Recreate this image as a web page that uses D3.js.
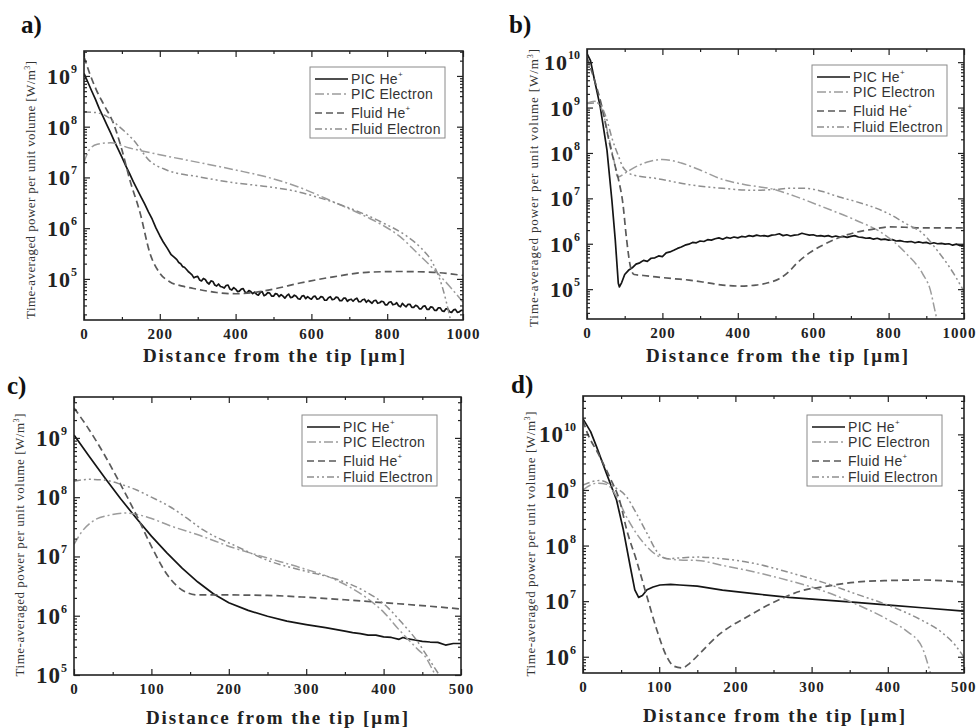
<!DOCTYPE html>
<html>
<head>
<meta charset="utf-8">
<script src="https://cdn.jsdelivr.net/npm/d3@7"></script>
<style>
  html, body { margin: 0; padding: 0; background: #fff; }
  svg { display: block; }
</style>
</head>
<body>
<svg id="fig" width="978" height="728"></svg>
<script>
// ---------- series names ----------
const seriesNames = ["PIC He", "PIC Electron", "Fluid He", "Fluid Electron"];
const seriesCharge = ["+", "", "+", ""];

// ---------- axis ticks ----------
const distTicks1000 = [0, 200, 400, 600, 800, 1000];
const distMinor1000 = [100, 300, 500, 700, 900];
const distTicks500 = [0, 100, 200, 300, 400, 500];
const distMinor500 = [50, 150, 250, 350, 450];
const decadesA = [5, 6, 7, 8, 9];
const decadesB = [5, 6, 7, 8, 9, 10];
const decadesC = [5, 6, 7, 8, 9];
const decadesD = [6, 7, 8, 9, 10];
const yDomainA = [1.55e4, 3.1e9];
const yDomainB = [2.2e4, 1.95e10];
const yDomainC = [1e5, 4.9e9];
const yDomainD = [5.1e5, 4.9e10];

// ---------- panel a: distance [um], power density [W/m^3] ----------
const aPicHe = [[0,1.12e9],[10,7.6e8],[20,5.1e8],[30,3.5e8],[40,2.3e8],[50,1.6e8],[60,1.1e8],[70,7.6e7],[80,5.2e7],[90,3.6e7],[100,2.5e7],[110,1.7e7],[120,1.2e7],[130,8.3e6],[140,5.9e6],[150,4.2e6],[160,3.0e6],[170,2.1e6],[180,1.5e6],[190,1.0e6],[200,7.1e5],[210,5.2e5],[220,4.0e5],[230,3.0e5],[240,2.6e5],[245,2.4e5],[250,2.1e5],[255,2.0e5],[260,1.75e5],[265,1.7e5],[270,1.55e5],[275,1.4e5],[280,1.3e5],[285,1.2e5],[290,1.05e5],[295,1.1e5],
  [300,1.12e5],[305,9.55e4],[310,9.12e4],[315,1.02e5],[320,9.77e4],[325,8.51e4],[330,7.94e4],[335,9.12e4],[340,8.91e4],[345,7.59e4],[350,7.24e4],[355,7.94e4],[360,7.08e4],[365,6.92e4],[370,6.61e4],[375,7.41e4],[380,7.59e4],[385,6.31e4],[390,6.03e4],[395,6.76e4],
  [400,6.31e4],[405,5.62e4],[410,5.75e4],[415,6.31e4],[420,6.46e4],[425,5.5e4],[430,5.25e4],[435,5.89e4],[440,5.62e4],[445,5.13e4],[450,5.5e4],[455,5.01e4],[460,4.79e4],[465,5.37e4],[470,5.62e4],[475,4.68e4],[480,4.9e4],[485,5.37e4],[490,5.25e4],[495,4.57e4],
  [500,4.57e4],[505,5.13e4],[510,5.01e4],[515,4.47e4],[520,4.9e4],[525,4.57e4],[530,4.17e4],[535,4.68e4],[540,5.01e4],[545,4.27e4],[550,4.37e4],[555,4.79e4],[560,4.57e4],[565,4.07e4],[570,3.98e4],[575,4.57e4],[580,4.68e4],[585,4.07e4],[590,4.47e4],[595,4.17e4],
  [600,3.98e4],[605,4.47e4],[610,4.57e4],[615,3.98e4],[620,4.07e4],[625,4.47e4],[630,4.37e4],[635,3.8e4],[640,3.8e4],[645,4.27e4],[650,4.47e4],[655,3.89e4],[660,3.98e4],[665,4.37e4],[670,4.27e4],[675,3.72e4],[680,3.72e4],[685,4.17e4],[690,4.17e4],[695,3.63e4],
  [700,3.89e4],[705,3.98e4],[710,3.63e4],[715,3.98e4],[720,4.17e4],[725,3.55e4],[730,3.55e4],[735,3.89e4],[740,3.98e4],[745,3.47e4],[750,3.8e4],[755,3.55e4],[760,3.31e4],[765,3.72e4],[770,3.8e4],[775,3.31e4],[780,3.39e4],[785,3.63e4],[790,3.55e4],[795,3.09e4],
  [800,3.09e4],[805,3.47e4],[810,3.55e4],[815,3.09e4],[820,3.16e4],[825,3.39e4],[830,2.95e4],[835,2.82e4],[840,3.31e4],[845,3.02e4],[850,2.82e4],[855,3.16e4],[860,3.16e4],[865,2.75e4],[870,2.75e4],[875,3.02e4],[880,2.88e4],[885,2.57e4],[890,2.57e4],[895,2.88e4],
  [900,2.95e4],[905,2.51e4],[910,2.51e4],[915,2.82e4],[920,2.75e4],[925,2.4e4],[930,2.4e4],[935,2.69e4],[940,2.69e4],[945,2.34e4],[950,2.29e4],[955,2.57e4],[960,2.57e4],[965,2.24e4],[970,2.19e4],[975,2.45e4],[980,2.51e4],[985,2.19e4],[990,2.24e4],[995,2.4e4],[1000,2.4e4]];
const aPicElectron = [[0,2.0e7],[15,3.6e7],[35,4.5e7],[70,4.8e7],[120,3.8e7],[200,2.8e7],[306,1.95e7],[400,1.4e7],[482,1.02e7],[570,6.3e6],[658,3.3e6],[746,1.66e6],[790,1.12e6],[834,6.8e5],[878,3.3e5],[921,1.6e5],[965,7.1e4],[1000,3.5e4]];
const aFluidHe = [[0,2.4e9],[15,1.12e9],[33,5.2e8],[55,2.5e8],[77,1.2e8],[100,3.5e7],[121,8.9e6],[148,2.0e6],[174,3.2e5],[200,1.3e5],[227,8.7e4],[260,7.2e4],[297,6.3e4],[350,5.4e4],[400,5.1e4],[450,5.4e4],[500,6.3e4],[570,8.3e4],[658,1.1e5],[746,1.35e5],[834,1.4e5],[921,1.35e5],[1000,1.17e5]];
const aFluidElectron = [[0,1.95e8],[30,1.9e8],[60,1.6e8],[90,1.05e8],[130,5.5e7],[174,2.1e7],[218,1.4e7],[306,1.02e7],[394,7.9e6],[482,6.6e6],[550,5.5e6],[620,4.0e6],[700,2.5e6],[790,1.26e6],[850,7.1e5],[890,4.0e5],[921,2.0e5],[945,7.1e4],[965,1.8e4],[975,7.9e3]];

// ---------- panel b ----------
const bPicHe = [[0,1.55e10],[9,1.1e10],[20,4.0e9],[35,1.05e9],[53,1.15e8],[66,9.1e6],[75,1.2e6],[83,1.35e5],[86,1.12e5],[92,1.4e5],[100,2.1e5],[110,2.6e5],[120,2.95e5],[130,3.55e5],[140,3.8e5],[150,4.3e5],[160,4.1e5],[170,4.8e5],[180,4.9e5],[190,5.4e5],[200,5.2e5],[210,6.3e5],[220,6.6e5],[230,7.2e5],[240,7.9e5],[250,8.5e5],[260,9.3e5],[270,9.8e5],[280,1.07e6],[290,1.05e6],[300,1.15e6],[310,1.12e6],[320,1.23e6],[330,1.2e6],[340,1.29e6],[350,1.35e6],[360,1.26e6],[370,1.38e6],[380,1.32e6],[390,1.41e6],[400,1.35e6],[410,1.45e6],[420,1.41e6],[430,1.51e6],[440,1.45e6],[450,1.55e6],[460,1.48e6],[470,1.51e6],[480,1.45e6],[490,1.55e6],[500,1.58e6],[510,1.66e6],[520,1.51e6],[530,1.58e6],[540,1.48e6],[550,1.55e6],[560,1.58e6],[570,1.7e6],[580,1.62e6],[590,1.55e6],[600,1.58e6],[610,1.48e6],[620,1.51e6],[630,1.45e6],[640,1.51e6],[650,1.41e6],[660,1.48e6],[670,1.41e6],[680,1.45e6],[690,1.38e6],[700,1.45e6],[710,1.51e6],[720,1.41e6],[730,1.38e6],[740,1.32e6],[750,1.35e6],[760,1.26e6],[770,1.32e6],[780,1.23e6],[790,1.26e6],[800,1.2e6],[810,1.23e6],[820,1.15e6],[830,1.17e6],[840,1.12e6],[850,1.1e6],[860,1.12e6],[870,1.05e6],[880,1.1e6],[890,1.05e6],[900,1.07e6],[910,1.0e6],[920,1.05e6],[930,1.0e6],[940,1.02e6],[950,9.8e5],[960,1.0e6],[970,9.3e5],[980,9.8e5],[990,9.1e5],[1000,9.5e5]];
const bPicElectron = [[0,1.26e9],[20,1.38e9],[40,8.9e8],[55,2.8e8],[70,7.9e7],[82,2.95e7],[100,3.55e7],[130,5.0e7],[160,6.3e7],[200,7.2e7],[250,6.0e7],[300,4.2e7],[360,2.6e7],[420,2.0e7],[492,1.6e7],[560,1.05e7],[625,6.5e6],[713,3.3e6],[784,1.7e6],[845,6.3e5],[890,2.2e5],[910,1.0e5],[925,2.8e4],[935,1.26e4]];
const bFluidHe = [[0,1.26e10],[20,4.0e9],[40,1.0e9],[60,1.6e8],[75,5.0e7],[84,2.5e7],[95,7.9e6],[105,1.26e6],[115,3.2e5],[125,2.1e5],[150,2.0e5],[183,1.86e5],[230,1.7e5],[271,1.58e5],[320,1.38e5],[360,1.23e5],[404,1.17e5],[448,1.23e5],[480,1.38e5],[510,1.7e5],[535,2.4e5],[554,3.55e5],[590,6.3e5],[625,9.3e5],[670,1.38e6],[713,1.78e6],[760,2.1e6],[801,2.35e6],[850,2.3e6],[890,2.24e6],[950,2.24e6],[1000,2.24e6]];
const bFluidElectron = [[0,1.23e9],[30,1.26e9],[50,6.3e8],[68,1.9e8],[85,7.9e7],[95,4.9e7],[121,3.3e7],[183,2.75e7],[271,2.0e7],[360,1.66e7],[448,1.5e7],[500,1.58e7],[536,1.66e7],[580,1.66e7],[625,1.41e7],[669,1.07e7],[713,8.5e6],[757,6.5e6],[800,4.6e6],[845,2.8e6],[890,1.7e6],[934,6.3e5],[960,3.2e5],[978,1.86e5],[1000,8.9e4]];

// ---------- panel c ----------
const cPicHe = [[0,1.12e9],[20,4.8e8],[40,2.1e8],[60,9.5e7],[80,4.5e7],[100,2.2e7],[120,1.15e7],[140,6.3e6],[160,3.7e6],[180,2.35e6],[200,1.66e6],[225,1.23e6],[250,9.8e5],[275,8.1e5],[300,7.1e5],[325,6.3e5],[350,5.5e5],[360,5.2e5],[370,5.0e5],[380,4.7e5],[390,4.7e5],[400,4.4e5],[410,4.3e5],[420,4.0e5],[425,4.3e5],[430,4.1e5],[440,3.9e5],[450,3.7e5],[460,3.6e5],[470,3.55e5],[480,3.2e5],[490,3.4e5],[500,3.4e5]];
const cPicElectron = [[0,1.6e7],[10,2.6e7],[25,4.0e7],[47,5.0e7],[68,5.4e7],[95,4.6e7],[124,3.3e7],[163,2.25e7],[206,1.4e7],[249,9.5e6],[292,6.5e6],[335,4.2e6],[357,3.0e6],[378,2.0e6],[400,1.15e6],[421,5.6e5],[443,2.8e5],[456,1.86e5],[464,1.17e5],[470,8.9e4]];
const cFluidHe = [[0,3.2e9],[20,1.35e9],[40,5.0e8],[60,1.66e8],[80,5.2e7],[100,1.48e7],[120,5.0e6],[140,2.7e6],[160,2.24e6],[200,2.24e6],[250,2.2e6],[300,2.05e6],[350,1.86e6],[400,1.66e6],[450,1.48e6],[500,1.3e6]];
const cFluidElectron = [[0,1.86e8],[20,2.0e8],[38,1.95e8],[60,1.66e8],[81,1.32e8],[100,1.0e8],[124,6.9e7],[145,4.5e7],[167,2.8e7],[210,1.48e7],[253,8.3e6],[300,5.6e6],[335,4.3e6],[357,3.4e6],[378,2.5e6],[400,1.6e6],[421,8.3e5],[443,3.8e5],[460,1.74e5],[473,9.5e4]];

// ---------- panel d ----------
const dPicHe = [[0,1.9e10],[10,1.12e10],[18,5.9e9],[31,1.95e9],[44,6.6e8],[53,1.9e8],[62,4.2e7],[68,1.6e7],[73,1.17e7],[78,1.26e7],[84,1.6e7],[92,1.8e7],[101,1.95e7],[115,2.0e7],[127,1.95e7],[150,1.86e7],[183,1.58e7],[227,1.35e7],[270,1.17e7],[314,1.05e7],[358,9.5e6],[402,8.5e6],[445,7.6e6],[500,6.6e6]];
const dPicElectron = [[0,1.0e9],[18,1.32e9],[31,1.26e9],[44,7.6e8],[57,3.3e8],[70,1.66e8],[84,9.5e7],[101,6.3e7],[127,5.5e7],[150,5.4e7],[183,4.4e7],[227,3.3e7],[270,2.35e7],[314,1.55e7],[358,8.9e6],[402,4.5e6],[424,2.95e6],[445,1.48e6],[454,6.3e5],[458,4.0e5]];
const dFluidHe = [[0,1.78e10],[5,1.12e10],[20,4.5e9],[35,1.7e9],[49,5.8e8],[57,2.0e8],[70,5.5e7],[84,1.2e7],[97,3.0e6],[110,1.0e6],[119,6.8e5],[130,6.3e5],[140,7.6e5],[149,1.0e6],[180,2.6e6],[215,5.2e6],[258,1.07e7],[290,1.58e7],[314,1.8e7],[358,2.2e7],[402,2.35e7],[445,2.4e7],[500,2.2e7]];
const dFluidElectron = [[0,1.23e9],[22,1.48e9],[40,1.15e9],[57,7.6e8],[70,3.8e8],[84,1.66e8],[97,7.8e7],[110,5.8e7],[127,6.0e7],[150,6.2e7],[183,5.8e7],[227,4.7e7],[270,3.3e7],[314,2.2e7],[358,1.35e7],[402,8.3e6],[445,4.5e6],[470,2.8e6],[489,1.58e6],[500,9.8e5]];

// ---------- line styles for the four series ----------
const styles = [
  { stroke: "#151515", width: 1.7, dash: null,            curve: d3.curveLinear },
  { stroke: "#9c9c9c", width: 1.5, dash: "9,3,2,3",       curve: d3.curveMonotoneX },
  { stroke: "#5a5a5a", width: 1.7, dash: "7,4",           curve: d3.curveMonotoneX },
  { stroke: "#8e8e8e", width: 1.5, dash: "7,3,2,3,2,3",   curve: d3.curveMonotoneX }
];

// ---------- panel layout ----------
const panels = [
  { tag: "a)", series: [aPicHe, aPicElectron, aFluidHe, aFluidElectron],
    xDomain: [0, 1000], xTicks: distTicks1000, xMinor: distMinor1000,
    yDomain: yDomainA, decades: decadesA,
    box: { left: 84, right: 463, top: 51, bottom: 320 },
    tagPos: [21, 33], legend: [310, 67], yTitle: [30, 190, 258], xTitle: [274, 362], yFont: 22 },
  { tag: "b)", series: [bPicHe, bPicElectron, bFluidHe, bFluidElectron],
    xDomain: [0, 1000], xTicks: distTicks1000, xMinor: distMinor1000,
    yDomain: yDomainB, decades: decadesB,
    box: { left: 587, right: 964, top: 49, bottom: 319 },
    tagPos: [509, 33], legend: [812, 65], yTitle: [533, 188, 278], xTitle: [777, 362], yFont: 22 },
  { tag: "c)", series: [cPicHe, cPicElectron, cFluidHe, cFluidElectron],
    xDomain: [0, 500], xTicks: distTicks500, xMinor: distMinor500,
    yDomain: yDomainC, decades: decadesC,
    box: { left: 74, right: 461, top: 397, bottom: 675 },
    tagPos: [7, 394], legend: [302, 415], yTitle: [19, 545, 263], xTitle: [277, 724], yFont: 23 },
  { tag: "d)", series: [dPicHe, dPicElectron, dFluidHe, dFluidElectron],
    xDomain: [0, 500], xTicks: distTicks500, xMinor: distMinor500,
    yDomain: yDomainD, decades: decadesD,
    box: { left: 583, right: 964, top: 396, bottom: 673 },
    tagPos: [511, 393], legend: [807, 415], yTitle: [530, 544, 265], xTitle: [774, 722], yFont: 23 }
];

const W = 978;
const svg = d3.select("#fig");
svg.append("rect").attr("width", W).attr("height", 728).attr("fill", "#fff");

const SERIF = "'Liberation Serif', 'Times New Roman', serif";
const SANS = "'Liberation Sans', Arial, sans-serif";
const INK = "#222";

function styleAxis(g) {
  g.select(".domain").remove();
  g.selectAll(".tick line").attr("stroke", INK).attr("stroke-width", 1.2);
}

panels.forEach((p, pi) => {
  const b = p.box;
  const x = d3.scaleLinear().domain(p.xDomain).range([b.left, b.right]);
  const y = d3.scaleLog().domain(p.yDomain).range([b.bottom, b.top]);
  const g = svg.append("g");

  const clipId = "clip-" + pi;
  svg.append("clipPath").attr("id", clipId)
    .append("rect").attr("x", b.left).attr("y", b.top)
    .attr("width", b.right - b.left).attr("height", b.bottom - b.top);

  // curves
  p.series.forEach((s, i) => {
    const st = styles[i];
    const line = d3.line().x(d => x(d[0])).y(d => y(d[1])).curve(st.curve);
    g.append("path").datum(s)
      .attr("clip-path", `url(#${clipId})`)
      .attr("d", line)
      .attr("fill", "none")
      .attr("stroke", st.stroke)
      .attr("stroke-width", st.width)
      .attr("stroke-linejoin", "round")
      .attr("stroke-dasharray", st.dash);
  });

  // minor log ticks
  const minorY = [];
  const lo = Math.floor(Math.log10(p.yDomain[0])), hi = Math.ceil(Math.log10(p.yDomain[1]));
  for (let e = lo; e <= hi; e++) {
    for (let k = 2; k <= 9; k++) {
      const v = k * Math.pow(10, e);
      if (v > p.yDomain[0] && v < p.yDomain[1]) minorY.push(v);
    }
  }
  const majorY = p.decades.map(e => Math.pow(10, e));

  // x axis (bottom) with labels
  const xb = g.append("g").attr("transform", `translate(0,${b.bottom})`)
    .call(d3.axisBottom(x).tickValues(p.xTicks).tickSize(-6).tickPadding(8).tickFormat(d3.format("d")));
  styleAxis(xb);
  xb.selectAll("text").attr("font-family", SERIF).attr("font-weight", "bold")
    .attr("font-size", 15).attr("fill", INK).attr("letter-spacing", "1px");
  // keep the last label inside the page
  xb.selectAll(".tick").each(function (d) {
    const t = d3.select(this).select("text");
    const w = t.node().getBBox().width;
    const over = x(d) + w / 2 - (W - 2);
    if (over > 0) t.attr("x", -over);
  });
  g.append("g").attr("transform", `translate(0,${b.bottom})`)
    .call(d3.axisBottom(x).tickValues(p.xMinor).tickSize(-3).tickFormat("")).call(styleAxis);
  g.append("g").attr("transform", `translate(0,${b.top})`)
    .call(d3.axisTop(x).tickValues(p.xTicks).tickSize(-6).tickFormat("")).call(styleAxis);
  g.append("g").attr("transform", `translate(0,${b.top})`)
    .call(d3.axisTop(x).tickValues(p.xMinor).tickSize(-3).tickFormat("")).call(styleAxis);

  // y axes (left and right), inward ticks
  [["axisLeft", b.left], ["axisRight", b.right]].forEach(([fn, px]) => {
    g.append("g").attr("transform", `translate(${px},0)`)
      .call(d3[fn](y).tickValues(majorY).tickSize(-6).tickFormat("")).call(styleAxis);
    g.append("g").attr("transform", `translate(${px},0)`)
      .call(d3[fn](y).tickValues(minorY).tickSize(-3).tickFormat("")).call(styleAxis);
  });

  // y tick labels as powers of ten
  p.decades.forEach(e => {
    const t = g.append("text")
      .attr("x", b.left - 7).attr("y", y(Math.pow(10, e)) + 8)
      .attr("text-anchor", "end")
      .attr("font-family", SERIF).attr("font-weight", "bold")
      .attr("fill", INK);
    t.append("tspan").attr("font-size", p.yFont).attr("letter-spacing", "1px").text("10");
    t.append("tspan").attr("font-size", 12).attr("dy", -11).text(e);
  });

  // frame
  g.append("rect").attr("x", b.left).attr("y", b.top)
    .attr("width", b.right - b.left).attr("height", b.bottom - b.top)
    .attr("fill", "none").attr("stroke", INK).attr("stroke-width", 1.6);

  // axis titles
  g.append("text")
    .attr("x", p.xTitle[0]).attr("y", p.xTitle[1])
    .attr("text-anchor", "middle")
    .attr("font-family", SERIF).attr("font-weight", "bold").attr("font-size", 19)
    .attr("fill", INK)
    .attr("textLength", 262).attr("lengthAdjust", "spacing")
    .text("Distance from the tip [\u03bcm]");

  const yt = g.append("text")
    .attr("transform", `translate(${p.yTitle[0]},${p.yTitle[1]}) rotate(-90)`)
    .attr("text-anchor", "middle").attr("dy", "0.35em")
    .attr("font-family", SERIF).attr("font-size", 13).attr("fill", "#333")
    .attr("textLength", p.yTitle[2]).attr("lengthAdjust", "spacing");
  yt.append("tspan").text("Time-averaged power per unit volume [W/m");
  yt.append("tspan").attr("font-size", 8).attr("dy", -5).text("3");
  yt.append("tspan").attr("dy", 5).text("]");

  // panel tag
  g.append("text").attr("x", p.tagPos[0]).attr("y", p.tagPos[1])
    .attr("font-family", SERIF).attr("font-weight", "bold").attr("font-size", 25)
    .attr("fill", "#111").text(p.tag);

  // legend
  const [lx, ly] = p.legend;
  const lg = g.append("g");
  lg.append("rect").attr("x", lx).attr("y", ly).attr("width", 135).attr("height", 71)
    .attr("fill", "#fff").attr("stroke", "#8a8a8a").attr("stroke-width", 1);
  const rows = [12, 27, 46, 62];
  seriesNames.forEach((name, i) => {
    const st = styles[i];
    const ry = ly + rows[i];
    lg.append("line").attr("x1", lx + 5).attr("x2", lx + 38).attr("y1", ry).attr("y2", ry)
      .attr("stroke", st.stroke).attr("stroke-width", st.width)
      .attr("stroke-dasharray", st.dash);
    const t = lg.append("text").attr("x", lx + 41).attr("y", ry + 5)
      .attr("font-family", SANS).attr("font-size", 14).attr("fill", "#333")
      .attr("letter-spacing", "0.3px");
    t.append("tspan").text(name);
    if (seriesCharge[i]) t.append("tspan").attr("font-size", 8).attr("dy", -7).text(seriesCharge[i]);
  });
});
</script>
</body>
</html>
